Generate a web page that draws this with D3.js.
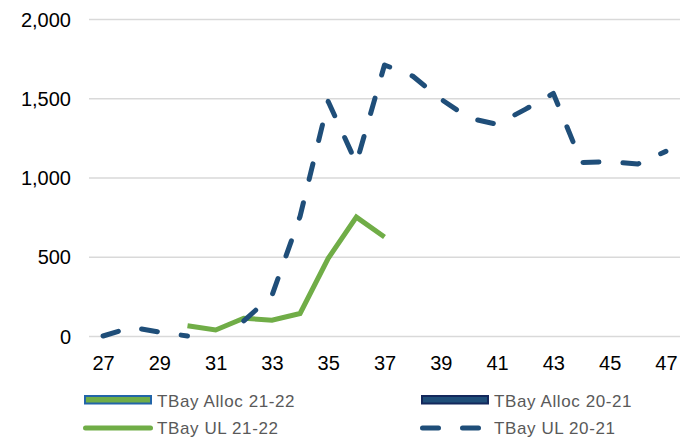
<!DOCTYPE html>
<html><head><meta charset="utf-8">
<script src="https://cdn.jsdelivr.net/npm/d3@7/dist/d3.min.js"></script>
<style>body{margin:0;background:#fff}svg{display:block}</style>
</head><body><svg id="c" width="693" height="440"></svg>
<script>
const weeks = [27,28,29,30,31,32,33,34,35,36,37,38,39,40,41,42,43,44,45,46,47];
const ul2122 = [null,null,null,65,38,112,100,142,490,750,625,null,null,null,null,null,null,null,null,null,null];
const ul2021 = [0,55,25,0,null,95,255,755,1480,1090,1710,1640,1495,1375,1335,1430,1530,1095,1100,1085,1165];
const alloc2122 = [];
const alloc2021 = [];
const yTicks = [0,500,1000,1500,2000];
const xTickLabels = [27,29,31,33,35,37,39,41,43,45,47];
const legendLabels = ["TBay Alloc 21-22","TBay Alloc 20-21","TBay UL 21-22","TBay UL 20-21"];

const green = "#70AD47", navy = "#1F4E79";
const svg = d3.select("#c");
const x = d3.scalePoint().domain(weeks).range([89,680]).padding(0.5);
const y = d3.scaleLinear().domain([0,2000]).range([336,19]);
const font = "'Liberation Sans', Arial, sans-serif";

const gy = svg.append("g").attr("transform","translate(89,0)")
  .call(d3.axisLeft(y).tickValues(yTicks).tickSize(-591).tickPadding(18).tickFormat(d3.format(",")));
gy.select(".domain").remove();
gy.selectAll("line").attr("stroke","#d9d9d9").attr("stroke-width",1.5);
gy.selectAll("text").attr("font-family",font).attr("font-size",20).attr("fill","#000").attr("dy","0.36em");

const gx = svg.append("g").attr("transform","translate(0,336)")
  .call(d3.axisBottom(x).tickValues(xTickLabels).tickSize(0).tickPadding(20));
gx.select(".domain").remove();
gx.selectAll("text").attr("font-family",font).attr("font-size",20).attr("fill","#000");

const line = d3.line().defined(d => d.v != null).x(d => x(d.w)).y(d => y(d.v));
const toPts = arr => weeks.map((w,i) => ({w, v: arr[i] === undefined ? null : arr[i]}));

svg.append("path").datum(toPts(ul2122)).attr("d",line)
  .attr("fill","none").attr("stroke",green).attr("stroke-width",5).attr("stroke-linejoin","miter");
svg.append("path").datum(toPts(ul2021)).attr("d",line)
  .attr("fill","none").attr("stroke",navy).attr("stroke-width",5)
  .attr("stroke-dasharray","16,24").attr("stroke-linecap","round").attr("stroke-linejoin","round");

// legend
const lg = svg.append("g").attr("font-family",font).attr("font-size",17).attr("fill","#595959")
  .attr("letter-spacing","0.6");
const items = [
  {label: legendLabels[0], type:"rect", fill:green, stroke:"#2265A8", x:85, y:400},
  {label: legendLabels[1], type:"rect", fill:navy, stroke:"#13285C", x:422, y:400},
  {label: legendLabels[2], type:"line", color:green, dash:null, x:85, y:428},
  {label: legendLabels[3], type:"line", color:navy, dash:"16,24", x:422, y:428}
];
items.forEach(it => {
  if (it.type === "rect") {
    lg.append("rect").attr("x",it.x).attr("y",it.y-4).attr("width",66).attr("height",7.5)
      .attr("fill",it.fill).attr("stroke",it.stroke).attr("stroke-width",2);
  } else {
    lg.append("line").attr("x1",it.x+0.5).attr("x2",it.x+65.5).attr("y1",it.y).attr("y2",it.y)
      .attr("stroke",it.color).attr("stroke-width",5).attr("stroke-linecap","round")
      .attr("stroke-dasharray",it.dash);
  }
  lg.append("text").attr("x",it.x+72).attr("y",it.y + (it.type === "rect" ? 1 : 0)).attr("dy","0.36em").text(it.label);
});
</script></body></html>
